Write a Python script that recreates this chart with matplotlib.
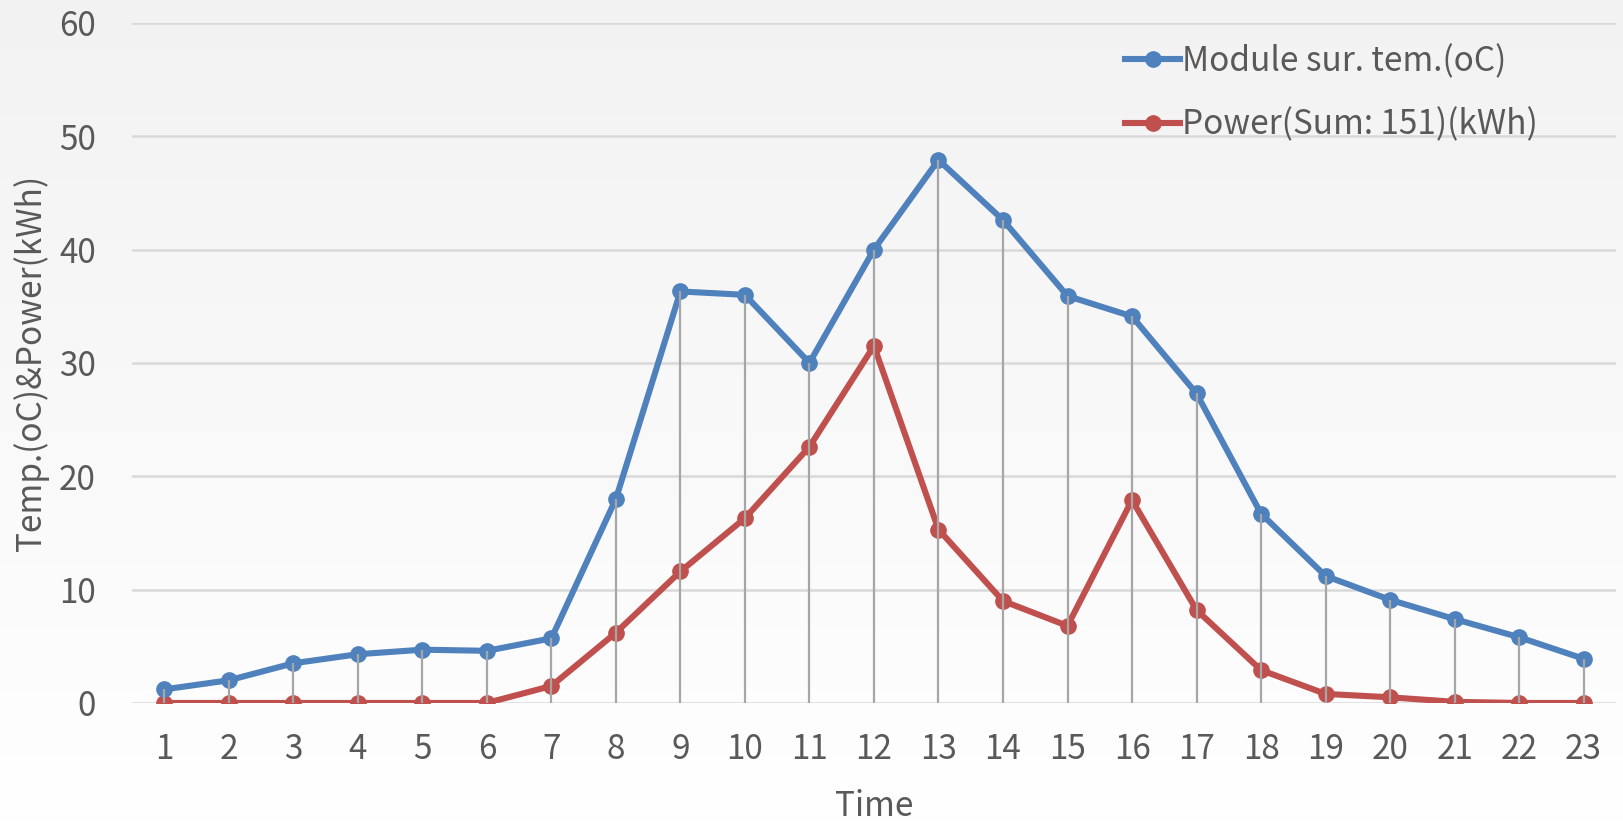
import numpy as np
import matplotlib
matplotlib.use("Agg")
import matplotlib.pyplot as plt

plt.rcParams['font.family'] = ['Noto Sans CJK KR', 'DejaVu Sans']

# hourly readings
hours = list(range(1, 24))
module_temp = [1.2, 2.0, 3.5, 4.3, 4.7, 4.6, 5.7, 18.0, 36.3, 36.0, 30.0, 40.0,
               47.9, 42.6, 35.9, 34.1, 27.3, 16.7, 11.2, 9.1, 7.4, 5.8, 3.9]
power = [0, 0, 0, 0, 0, 0, 1.5, 6.2, 11.6, 16.3, 22.6, 31.5,
         15.3, 9.0, 6.8, 17.9, 8.2, 2.9, 0.8, 0.5, 0.1, 0.0, 0.0]

label_temp = 'Module sur. tem.(oC)'
label_power = 'Power(Sum: 151)(kWh)'

txt = '#595959'
fs = 24

fig = plt.figure(figsize=(16.24, 8.22), dpi=100)

# soft grey-to-white background
bg = fig.add_axes([0, 0, 1, 1], zorder=-10)
grad = np.linspace(0.95, 1.0, 256).reshape(-1, 1)
bg.imshow(np.dstack([grad, grad, grad]), aspect='auto', extent=[0, 1, 0, 1])
bg.axis('off')

ax = fig.add_axes([0.0813, 0.1448, 0.9137, 0.8275])
ax.set_facecolor('none')

ax.plot(hours, module_temp, color='#4F81BD', lw=4.4, marker='o', ms=11,
        label=label_temp, zorder=4)
ax.plot(hours, power, color='#C0504D', lw=4.4, marker='o', ms=11,
        label=label_power, zorder=3)

# drop lines from the higher series down to zero
ax.vlines(hours, 0, np.maximum(module_temp, power), color='#A6A6A6', lw=1.6, zorder=5)

ax.set_xlim(0.5, 23.5)
ax.set_ylim(0, 60)
ax.set_yticks(range(0, 61, 10))
ax.set_xticks(hours)
ax.grid(axis='y', color='#D9D9D9', lw=1.8, zorder=0)
ax.set_axisbelow(True)
for s in ax.spines.values():
    s.set_visible(False)
ax.tick_params(axis='both', length=0, labelsize=fs, labelcolor=txt)
ax.tick_params(axis='y', pad=26)
ax.tick_params(axis='x', pad=21)

ax.set_xlabel('Time', fontsize=fs, color=txt, labelpad=16)
ax.set_ylabel('Temp.(oC)&Power(kWh)', fontsize=fs, color=txt, labelpad=7)

ax.legend(loc='upper left', bbox_to_anchor=(0.649, 1.013), frameon=False,
          fontsize=fs, labelcolor=txt, handlelength=1.65, handletextpad=0.05,
          labelspacing=0.85)

fig.savefig('out.png', dpi=100)
